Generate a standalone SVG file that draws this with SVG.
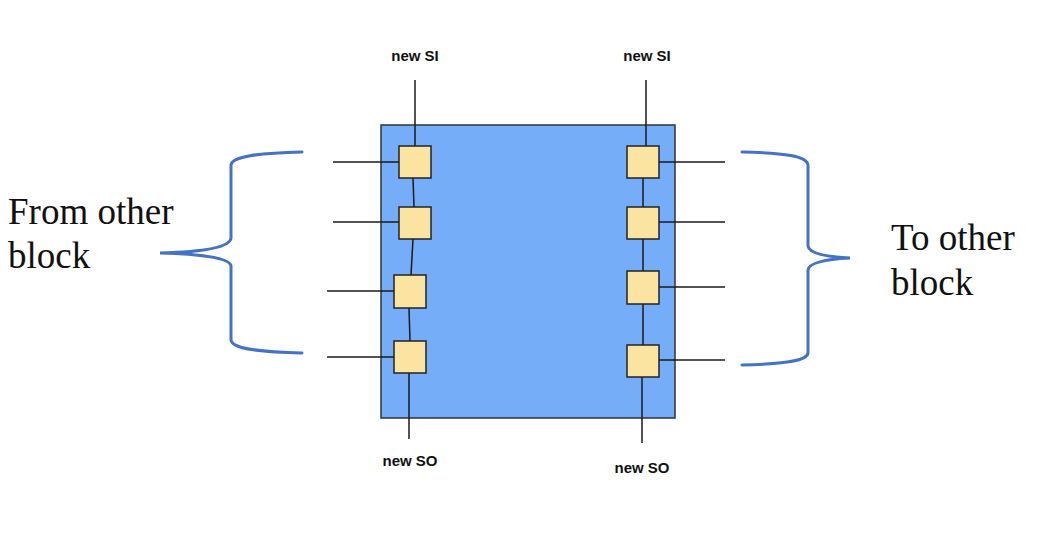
<svg xmlns="http://www.w3.org/2000/svg" width="1050" height="556" viewBox="0 0 1050 556">
<style>
.wire{stroke:#1a1a1a;stroke-width:1.5;fill:none}
.ff{fill:#fbe4a2;stroke:#222;stroke-width:1.5}
.lbl{font-family:"Liberation Sans",Arial,sans-serif;font-weight:bold;font-size:15px;fill:#111;text-anchor:middle}
.big{font-family:"Liberation Serif","Times New Roman",serif;font-size:37px;fill:#111}
.brace{fill:none;stroke:#4472c4;stroke-width:3;stroke-linecap:round}
</style>
<rect width="1050" height="556" fill="#ffffff"/>
<g id="block"><rect x="381" y="125" width="294" height="293" fill="#76adf8" stroke="#333" stroke-width="1.5"/></g>
<g id="connectors">
<line class="wire" x1="415" y1="80" x2="415" y2="146"/>
<line class="wire" x1="333" y1="162" x2="399" y2="162"/>
<line class="wire" x1="413" y1="178" x2="414" y2="207"/>
<line class="wire" x1="333" y1="222" x2="399" y2="222"/>
<line class="wire" x1="413" y1="239" x2="411" y2="275"/>
<line class="wire" x1="327" y1="291" x2="394" y2="291"/>
<line class="wire" x1="409" y1="308" x2="410" y2="341"/>
<line class="wire" x1="327" y1="357" x2="394" y2="357"/>
<line class="wire" x1="409" y1="373" x2="409" y2="439"/>
<line class="wire" x1="646" y1="80" x2="646" y2="146"/>
<line class="wire" x1="659" y1="162" x2="725" y2="162"/>
<line class="wire" x1="643" y1="178" x2="643" y2="207"/>
<line class="wire" x1="659" y1="222" x2="725" y2="222"/>
<line class="wire" x1="643" y1="239" x2="643" y2="271"/>
<line class="wire" x1="659" y1="287" x2="725" y2="287"/>
<line class="wire" x1="643" y1="304" x2="643" y2="345"/>
<line class="wire" x1="659" y1="360" x2="725" y2="360"/>
<line class="wire" x1="642" y1="377" x2="642" y2="443"/>
</g>
<g id="ff-l1"><rect class="ff" x="399" y="146" width="32" height="32"/></g>
<g id="ff-l2"><rect class="ff" x="399" y="207" width="32" height="32"/></g>
<g id="ff-l3"><rect class="ff" x="394" y="275" width="32" height="33"/></g>
<g id="ff-l4"><rect class="ff" x="394" y="341" width="32" height="32"/></g>
<g id="ff-r1"><rect class="ff" x="627" y="146" width="32" height="32"/></g>
<g id="ff-r2"><rect class="ff" x="627" y="207" width="32" height="32"/></g>
<g id="ff-r3"><rect class="ff" x="627" y="271" width="32" height="33"/></g>
<g id="ff-r4"><rect class="ff" x="627" y="345" width="32" height="32"/></g>
<g id="labels">
<text class="lbl" x="415" y="61">new SI</text>
<text class="lbl" x="647" y="61">new SI</text>
<text class="lbl" x="410" y="466">new SO</text>
<text class="lbl" x="642" y="473">new SO</text>
</g>
<g id="brace-left"><path class="brace" d="M302,152 C260,153 232,156 231,165 L231,238 C230,248 200,252 160,253 C200,254 230,258 231,266 L231,340 C232,349 260,352 302,353"/></g>
<g id="brace-right"><path class="brace" d="M742,152 C785,153 807,156 808,165 L808,246 C809,254 830,257 850,258 C830,259 809,262 808,270 L808,353 C807,361 785,364 742,365"/></g>
<g id="from-text"><text class="big" x="8" y="224">From other</text><text class="big" x="8" y="268">block</text></g>
<g id="to-text"><text class="big" x="891" y="250">To other</text><text class="big" x="891" y="295">block</text></g>
</svg>
